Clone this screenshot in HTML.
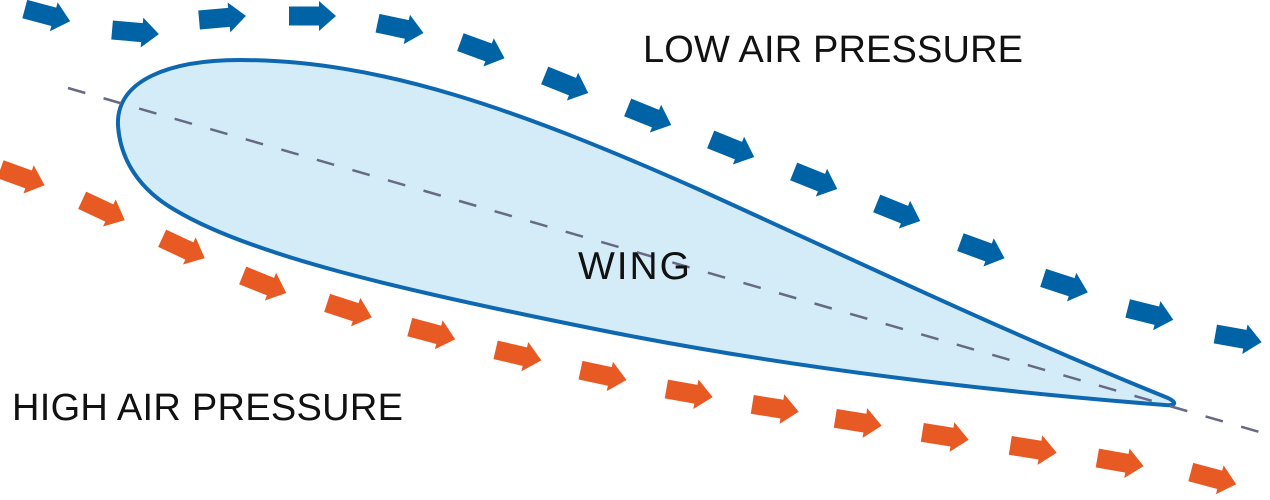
<!DOCTYPE html>
<html><head><meta charset="utf-8"><style>
html,body{margin:0;padding:0;background:#fff;}
svg{display:block;}
text{font-family:"Liberation Sans",sans-serif;fill:#111;}
</style></head><body>
<svg width="1270" height="500" viewBox="0 0 1270 500" xmlns="http://www.w3.org/2000/svg">
<defs>
<path id="a" d="M-23,-9.5 L7,-9.5 L7,-15 L24,0 L7,15 L7,9.5 L-23,9.5 Z"/>
</defs>
<path d="M118,125 C116,80 170,60 240,60 C380,60 520,110 700,190 C850,258 1000,330 1168,398 C1178,403 1175,406 1165,405 C1000,392 800,370 600,330 C400,290 250,255 175,210 C140,190 120,160 118,125 Z" fill="#d3ecf7" stroke="#0e68b1" stroke-width="4"/>
<line x1="68" y1="88" x2="1270" y2="435" stroke="#666a85" stroke-width="2.5" stroke-dasharray="18,19"/>
<g fill="#0063a6">
<use href="#a" transform="translate(47,15) rotate(15)"/>
<use href="#a" transform="translate(135,32) rotate(5)"/>
<use href="#a" transform="translate(222,18) rotate(-5)"/>
<use href="#a" transform="translate(312,16) rotate(0)"/>
<use href="#a" transform="translate(400,28) rotate(12)"/>
<use href="#a" transform="translate(482,50) rotate(20)"/>
<use href="#a" transform="translate(566,84) rotate(22)"/>
<use href="#a" transform="translate(649,116) rotate(22)"/>
<use href="#a" transform="translate(732,148) rotate(22)"/>
<use href="#a" transform="translate(815,180) rotate(22)"/>
<use href="#a" transform="translate(898,212) rotate(22)"/>
<use href="#a" transform="translate(982,250) rotate(20)"/>
<use href="#a" transform="translate(1065,285) rotate(18)"/>
<use href="#a" transform="translate(1150,314) rotate(14)"/>
<use href="#a" transform="translate(1238,338) rotate(10)"/>
</g>
<g fill="#e85a24">
<use href="#a" transform="translate(22,177) rotate(20)"/>
<use href="#a" transform="translate(103,210) rotate(25)"/>
<use href="#a" transform="translate(183,248) rotate(25)"/>
<use href="#a" transform="translate(264,284) rotate(22)"/>
<use href="#a" transform="translate(349,310) rotate(18)"/>
<use href="#a" transform="translate(432,333) rotate(15)"/>
<use href="#a" transform="translate(518,355) rotate(13)"/>
<use href="#a" transform="translate(603,375) rotate(12)"/>
<use href="#a" transform="translate(689,393) rotate(10)"/>
<use href="#a" transform="translate(775,408) rotate(9)"/>
<use href="#a" transform="translate(858,422) rotate(9)"/>
<use href="#a" transform="translate(945,436) rotate(9)"/>
<use href="#a" transform="translate(1033,449) rotate(9)"/>
<use href="#a" transform="translate(1120,462) rotate(10)"/>
<use href="#a" transform="translate(1213,478) rotate(15)"/>
</g>
<text x="643" y="62" font-size="38" textLength="380">LOW AIR PRESSURE</text>
<text x="12" y="420" font-size="38" textLength="391">HIGH AIR PRESSURE</text>
<text x="578" y="279" font-size="39" textLength="112">WING</text>
</svg>
</body></html>
